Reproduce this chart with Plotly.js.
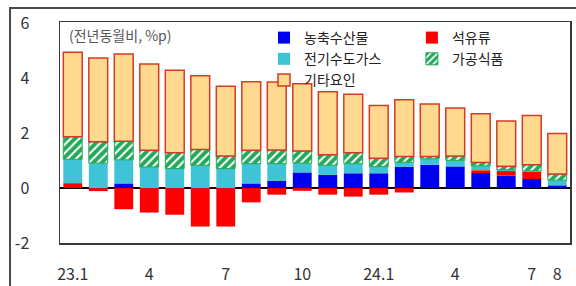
<!DOCTYPE html>
<html>
<head>
<meta charset="utf-8">
<script src="https://cdn.plot.ly/plotly-3.0.1.min.js"></script>
<style>
  html, body { margin: 0; padding: 0; background: #ffffff; }
  #chart { width: 576px; height: 286px; }
</style>
</head>
<body>
<div id="chart"></div>
<script>
const months = ['23.1','23.2','23.3','23.4','23.5','23.6','23.7','23.8','23.9','23.10','23.11','23.12',
                '24.1','24.2','24.3','24.4','24.5','24.6','24.7','24.8'];
const tickVals = ['23.1','23.4','23.7','23.10','24.1','24.4','24.7','24.8'];
const tickText = ['23.1','4','7','10','24.1','4','7','8'];

const seriesNames = ['농축수산물', '석유류', '전기수도가스', '가공식품', '기타요인'];
const agri  = [0, 0, 0.17, 0, 0, 0, 0, 0.17, 0.26, 0.57, 0.48, 0.54, 0.54, 0.77, 0.85, 0.79, 0.55, 0.45, 0.33, 0.10];
const oil   = [0.18, -0.11, -0.77, -0.89, -0.97, -1.40, -1.40, -0.52, -0.24, -0.10, -0.24, -0.31, -0.24, -0.16, 0, 0, 0.10, 0.17, 0.26, 0];
const elec  = [0.87, 0.91, 0.86, 0.77, 0.71, 0.83, 0.71, 0.72, 0.63, 0.34, 0.35, 0.35, 0.24, 0.17, 0.22, 0.22, 0.16, 0.05, 0.04, 0.19];
const food  = [0.82, 0.78, 0.68, 0.61, 0.58, 0.58, 0.46, 0.49, 0.50, 0.44, 0.38, 0.40, 0.31, 0.21, 0.08, 0.16, 0.12, 0.13, 0.22, 0.22];
const other = [3.08, 3.05, 3.17, 3.14, 3.00, 2.68, 2.54, 2.49, 2.47, 2.45, 2.30, 2.13, 1.92, 2.07, 1.91, 1.75, 1.78, 1.64, 1.79, 1.48];

const FONT = '"Noto Sans CJK KR", "Noto Sans", sans-serif';

const traces = [
  { type: 'bar', name: seriesNames[0], x: months, y: agri, legend: 'legend',
    marker: { color: '#0000F0', line: { width: 0 } } },
  { type: 'bar', name: seriesNames[1], x: months, y: oil, legend: 'legend2',
    marker: { color: '#FF0000', line: { width: 0 } } },
  { type: 'bar', name: seriesNames[2], x: months, y: elec, legend: 'legend',
    marker: { color: '#3EC4D6', line: { width: 0 } } },
  { type: 'bar', name: seriesNames[3], x: months, y: food, legend: 'legend2',
    marker: { color: '#23A85A', line: { color: '#23A85A', width: 1 },
      pattern: { shape: '/', bgcolor: '#23A85A', fgcolor: '#FFFFFF', size: 6, solidity: 0.35 } } },
  { type: 'bar', name: seriesNames[4], x: months, y: other, legend: 'legend',
    marker: { color: '#FFD98E', line: { color: '#D63A26', width: 1.5 } } }
];

const layout = {
  width: 576, height: 286,
  margin: { l: 60, r: 6, t: 22, b: 43 },
  paper_bgcolor: '#ffffff', plot_bgcolor: '#ffffff',
  font: { family: FONT, size: 15, color: '#333333' },
  barmode: 'relative',
  bargap: 0.26,
  showlegend: true,
  xaxis: {
    type: 'category',
    tickvals: tickVals, ticktext: tickText,
    showgrid: false, zeroline: false,
    showline: true, mirror: true, linecolor: '#3a3a3a', linewidth: 1.5,
    ticks: '', ticklabelstandoff: 16,
    tickfont: { family: FONT, size: 16, color: '#333333' }
  },
  yaxis: {
    range: [-2, 6.05],
    tickvals: [-2, 0, 2, 4, 6],
    ticktext: ['-2', '0', '2', '4', '6'],
    showgrid: false,
    zeroline: true, zerolinecolor: '#000000', zerolinewidth: 1.5,
    showline: true, mirror: true, linecolor: '#3a3a3a', linewidth: 1.5,
    ticks: '', ticklabelstandoff: 26,
    tickfont: { family: FONT, size: 16, color: '#333333' }
  },
  legend: {
    x: 0.40, xanchor: 'left', y: 1.0, yanchor: 'top',
    orientation: 'v', traceorder: 'normal',
    bgcolor: 'rgba(0,0,0,0)', borderwidth: 0,
    font: { family: FONT, size: 14, color: '#222222' }
  },
  legend2: {
    x: 0.69, xanchor: 'left', y: 1.0, yanchor: 'top',
    orientation: 'v', traceorder: 'normal',
    bgcolor: 'rgba(0,0,0,0)', borderwidth: 0,
    font: { family: FONT, size: 14, color: '#222222' }
  },
  annotations: [
    { xref: 'paper', yref: 'paper', x: 0.014, y: 0.94, xanchor: 'left', yanchor: 'middle',
      text: '(전년동월비, %p)', showarrow: false,
      font: { family: FONT, size: 14, color: '#555555' } }
  ],
  shapes: [
    { type: 'rect', xref: 'paper', yref: 'paper', x0: -0.098, x1: 1.03, y0: -0.35, y1: 1.063,
      line: { color: '#4a4a4a', width: 2 }, fillcolor: 'rgba(0,0,0,0)', layer: 'below' }
  ]
};

Plotly.newPlot('chart', traces, layout, { displayModeBar: false, staticPlot: true });
</script>
</body>
</html>
